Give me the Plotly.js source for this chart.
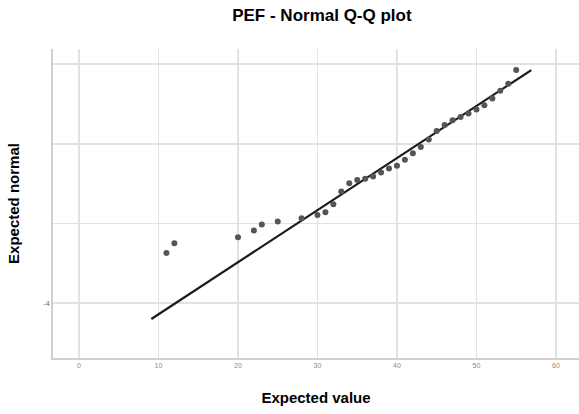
<!DOCTYPE html>
<html>
<head>
<meta charset="utf-8">
<script src="https://cdn.plot.ly/plotly-3.0.1.min.js"></script>
<style>html,body{margin:0;padding:0;background:#fff;}#chart{width:579px;height:414px;}</style>
</head>
<body>
<div id="chart"></div>
<script>
// Observed values (x) and expected normal quantiles (y)
var observed = [11, 12, 20, 22, 23, 25, 28, 30, 31, 32, 33, 34, 35, 36, 37, 38, 39, 40, 41, 42, 43, 44, 45, 46, 47, 48, 49, 50, 51, 52, 53, 54, 55];
var expectedNormal = [-2.74, -2.50, -2.35, -2.18, -2.03, -1.95, -1.87, -1.79, -1.72, -1.52, -1.20, -0.99, -0.91, -0.88, -0.82, -0.72, -0.62, -0.55, -0.40, -0.24, -0.08, 0.11, 0.32, 0.47, 0.59, 0.67, 0.76, 0.86, 0.97, 1.14, 1.33, 1.51, 1.85];
// Reference line endpoints
var lineX = [9.1, 56.9];
var lineY = [-4.40, 1.85];
// Axis ticks
var xTickVals = [0, 10, 20, 30, 40, 50, 60];
var xTickText = ["0", "10", "20", "30", "40", "50", "60"];
var yTickVals = [2, 0, -2, -4];
var yTickText = ["", "", "", "-4"];

var traces = [
  {
    x: lineX, y: lineY, type: 'scatter', mode: 'lines',
    line: {color: '#1a1a1a', width: 2.2}, hoverinfo: 'skip', showlegend: false
  },
  {
    x: observed, y: expectedNormal, type: 'scatter', mode: 'markers',
    marker: {color: '#555555', size: 6}, showlegend: false
  }
];

var layout = {
  width: 579, height: 414,
  paper_bgcolor: '#ffffff', plot_bgcolor: '#ffffff',
  margin: {l: 53, r: 0, t: 49, b: 56},
  font: {family: '"Liberation Sans", Arial, sans-serif', color: '#000'},
  title: {
    text: '<b>PEF - Normal Q-Q plot</b>',
    font: {size: 17, color: '#000'},
    x: 0.556, xanchor: 'center', xref: 'container',
    y: 0.963, yanchor: 'middle', yref: 'container'
  },
  xaxis: {
    range: [-3.27, 62.9],
    tickvals: xTickVals, ticktext: xTickText,
    tickfont: {size: 7, color: '#8a8a8a'},
    showgrid: true, gridcolor: '#e2e2e2', gridwidth: 1.5,
    zeroline: false,
    showline: true, linecolor: '#d0d0d0', linewidth: 2,
    ticks: '', ticklen: 0,
    title: {text: '<b>Expected value</b>', font: {size: 15, color: '#000'}, standoff: 24}
  },
  yaxis: {
    range: [-5.38, 2.38],
    tickvals: yTickVals, ticktext: yTickText,
    tickfont: {size: 7, color: '#666'},
    showgrid: true, gridcolor: '#e2e2e2', gridwidth: 1.5,
    zeroline: false,
    showline: true, linecolor: '#d0d0d0', linewidth: 2,
    ticks: '', ticklen: 0,
    title: {text: '<b>Expected normal</b>', font: {size: 15, color: '#000'}, standoff: 20}
  }
};

Plotly.newPlot('chart', traces, layout, {displayModeBar: false, staticPlot: true});
</script>
</body>
</html>
